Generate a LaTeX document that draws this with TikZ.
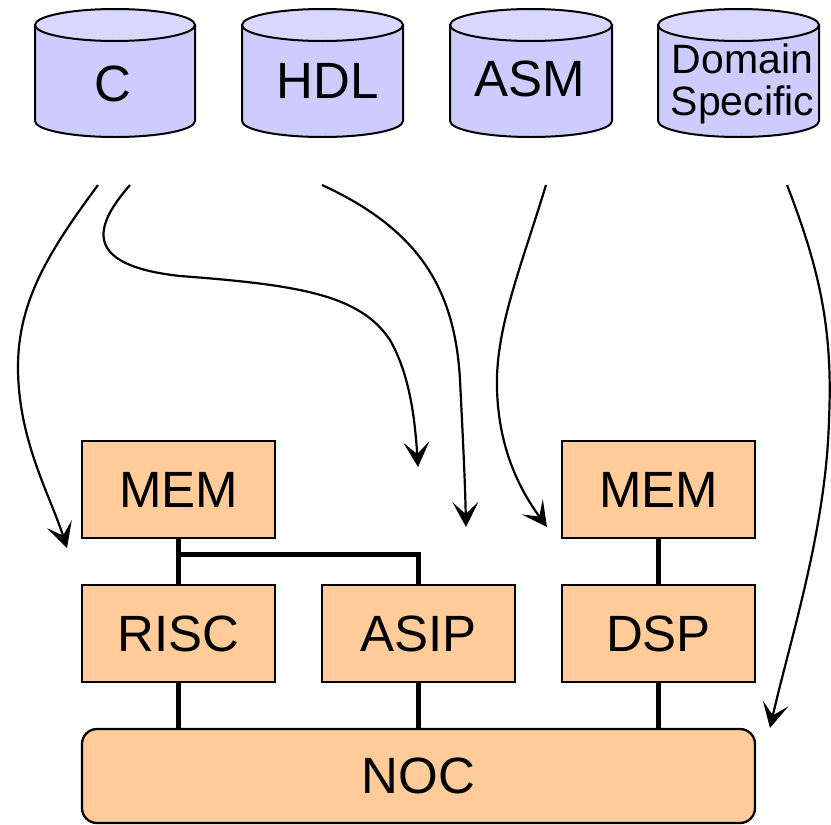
\documentclass[tikz,border=0pt]{standalone}
\usepackage{fontspec}
\setmainfont{Liberation Sans}
\usetikzlibrary{arrows.meta,backgrounds,calc}

\definecolor{drumside}{HTML}{CCCCFF}
\definecolor{drumtop}{HTML}{D8D8FF}
\definecolor{unitfill}{HTML}{FFCC99}

\tikzset{
  drumbody/.style={fill=drumside, draw=black, line width=2pt},
  drumlid/.style={fill=drumtop, draw=black, line width=2pt},
  drumtext/.style={inner sep=0pt, font=\fontsize{51}{55}\selectfont},
  unit/.style={draw=black, line width=2.3pt, fill=unitfill, inner sep=0pt,
    minimum width=193pt, minimum height=97pt, font=\fontsize{51}{55}\selectfont},
  link/.style={line width=5.5pt},
  flow/.style={line width=2.2pt, -{Stealth[length=25pt,width=26pt,inset=12pt]}}
}

% source-language drum: centre x, half width
\newcommand{\drum}[2]{%
  \path[drumbody] ({#1-#2},-25) -- ({#1-#2},-121)
    arc[start angle=180, end angle=360, x radius=#2pt, y radius=16pt]
    -- ({#1+#2},-25) -- cycle;
  \path[drumlid] (#1,-25) ellipse[x radius=#2pt, y radius=16pt];
}

\begin{document}
\begin{tikzpicture}[x=1pt, y=1pt]
\useasboundingbox (0,0) rectangle (831,-825);

% language sources
\drum{115}{80}
\drum{322.5}{80.5}
\drum{531}{81}
\drum{738.5}{80.5}
\node[drumtext] (c) at (113,-84) {C};
\node[drumtext] (hdl) at (328,-81) {HDL};
\node[drumtext] (asm) at (530,-79) {ASM};
\node[drumtext, font=\fontsize{41}{42}\selectfont, align=center, anchor=north]
  (dsl) at (742.5,-43.5) {Domain\\Specific};

% processing elements
\node[unit] (mem1) at (178.5,-489.5) {MEM};
\node[unit] (risc) at (178.5,-633.5) {RISC};
\node[unit] (asip) at (418.5,-633.5) {ASIP};
\node[unit] (mem2) at (658.5,-489.5) {MEM};
\node[unit] (dsp)  at (658.5,-633.5) {DSP};
\node[unit, rounded corners=15pt, minimum width=673pt, minimum height=94pt]
  (noc) at (418.5,-776) {NOC};

% wiring between elements, kept behind the boxes
\begin{scope}[on background layer]
  \coordinate (tap) at ($(mem1.south)!0.34!(risc.north)$);
  \draw[link] (mem1.center) -- (risc.center);
  \draw[link] (tap) -| (asip.center);
  \draw[link] (risc.center) -- (risc.center |- noc.center);
  \draw[link] (asip.center) -- (asip.center |- noc.center);
  \draw[link] (mem2.center) -- (dsp.center);
  \draw[link] (dsp.center) -- (dsp.center |- noc.center);
\end{scope}

% mapping arrows
\coordinate (cA) at (98,-185);
\coordinate (cB) at (130,-185);
\coordinate (hA) at (322,-185);
\coordinate (aA) at (546,-185);
\coordinate (dA) at (787,-185);
\coordinate (t1) at (67,-548);
\coordinate (t2) at (418,-467);
\coordinate (t3) at (466,-527);
\coordinate (t4) at (547,-527);
\coordinate (t5) at (770,-728);

\draw[flow] (cA) .. controls (50,-250) and (18,-300) .. (18,-367)
  .. controls (18,-440) and (50,-495) .. (t1);
\draw[flow] (cB) .. controls (95,-225) and (80,-265) .. (180,-276)
  .. controls (300,-285) and (360,-295) .. (390,-340)
  .. controls (410,-375) and (415,-420) .. (t2);
\draw[flow] (hA) .. controls (420,-230) and (455,-290) .. (460,-380)
  .. controls (463,-440) and (465,-480) .. (t3);
\draw[flow] (aA) .. controls (520,-270) and (495,-330) .. (497,-390)
  .. controls (499,-450) and (520,-490) .. (t4);
\draw[flow] (dA) .. controls (820,-270) and (833,-330) .. (829,-420)
  .. controls (826,-530) and (790,-640) .. (t5);
\end{tikzpicture}
\end{document}
